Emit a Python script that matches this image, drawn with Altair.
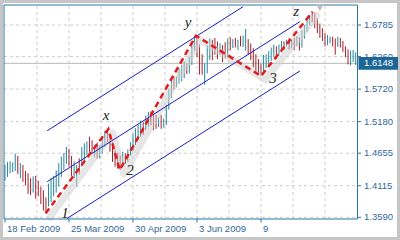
import altair as alt
import pandas as pd

# ---------------- data ----------------
highs = [
    1.446, 1.451, 1.452, 1.450, 1.465, 1.461, 1.449, 1.446, 1.436, 1.432,
    1.424, 1.427, 1.428, 1.420, 1.410, 1.404, 1.392, 1.415, 1.424, 1.428,
    1.437, 1.449, 1.460, 1.466, 1.476, 1.473, 1.461, 1.452, 1.446, 1.457,
    1.476, 1.482, 1.485, 1.493, 1.487, 1.479, 1.483, 1.479, 1.493, 1.503,
    1.5057, 1.496, 1.484, 1.471, 1.466, 1.462, 1.468, 1.465, 1.472, 1.484,
    1.498, 1.507, 1.513, 1.520, 1.517, 1.528, 1.534, 1.535, 1.531, 1.529,
    1.526, 1.529, 1.523, 1.546, 1.572, 1.590, 1.592, 1.593, 1.606, 1.612,
    1.618, 1.614, 1.626, 1.650, 1.6607, 1.659, 1.646, 1.630, 1.615, 1.645,
    1.656, 1.654, 1.657, 1.651, 1.648, 1.645, 1.650, 1.656, 1.658, 1.655,
    1.657, 1.654, 1.660, 1.661, 1.672, 1.655, 1.648, 1.640, 1.630, 1.622,
    1.614, 1.629, 1.630, 1.635, 1.641, 1.646, 1.643, 1.646, 1.652, 1.651,
    1.654, 1.657, 1.654, 1.657, 1.660, 1.658, 1.670, 1.6785, 1.687, 1.695,
    1.7006, 1.699, 1.690, 1.681, 1.673, 1.665, 1.662, 1.659, 1.659, 1.656,
    1.659, 1.657, 1.652, 1.643, 1.638, 1.636, 1.637, 1.633,
]
lows = [
    1.420, 1.426, 1.432, 1.434, 1.436, 1.431, 1.424, 1.418, 1.412, 1.398,
    1.396, 1.400, 1.390, 1.394, 1.381, 1.370, 1.3656, 1.377, 1.384, 1.394,
    1.400, 1.410, 1.426, 1.438, 1.448, 1.443, 1.427, 1.424, 1.410, 1.430,
    1.443, 1.453, 1.462, 1.467, 1.465, 1.459, 1.456, 1.457, 1.465, 1.476,
    1.484, 1.468, 1.451, 1.443, 1.440, 1.4376, 1.443, 1.448, 1.451, 1.462,
    1.470, 1.479, 1.487, 1.493, 1.496, 1.504, 1.509, 1.512, 1.504, 1.506,
    1.509, 1.506, 1.508, 1.512, 1.538, 1.557, 1.572, 1.575, 1.581, 1.585,
    1.590, 1.597, 1.598, 1.612, 1.636, 1.625, 1.596, 1.596, 1.579, 1.598,
    1.620, 1.620, 1.629, 1.622, 1.629, 1.617, 1.623, 1.625, 1.636, 1.640,
    1.641, 1.637, 1.643, 1.642, 1.636, 1.630, 1.620, 1.608, 1.600, 1.597,
    1.5938, 1.601, 1.607, 1.612, 1.619, 1.625, 1.622, 1.628, 1.633, 1.637,
    1.643, 1.638, 1.640, 1.637, 1.643, 1.636, 1.641, 1.656, 1.667, 1.678,
    1.683, 1.673, 1.665, 1.657, 1.652, 1.643, 1.645, 1.648, 1.643, 1.629,
    1.642, 1.641, 1.634, 1.625, 1.613, 1.611, 1.617, 1.612,
]
# u = up bar (teal), d = down bar (red)
dirs = list(
    "uuuuududdd"  # 0-9
    "duddddduuu"  # 10-19
    "uuuuudduud"  # 20-29
    "uuudduduuu"  # 30-39
    "dddddduduu"  # 40-49
    "uuuuduuddd"  # 50-59
    "uduuuuduuu"  # 60-69
    "uduuuddduu"  # 70-79
    "uddduddudu"  # 80-89
    "duduuddddd"  # 90-99
    "duuuuuduud"  # 100-109
    "udududuuuu"  # 110-119
    "dddddduudd"  # 120-129
    "udddduuu"    # 130-137
)

zig_i = [15.9, 40.4, 44.8, 74.6, 100.0, 120.2]
zig_p = [1.3656, 1.5057, 1.4376, 1.6607, 1.5938, 1.7006]

chan_name = ["upper", "upper", "middle", "middle", "lower", "lower"]
chan_i = [16.5, 93.0, 16.5, 115.2, 24.2, 115.2]
chan_p = [1.5029, 1.7089, 1.4182, 1.6840, 1.3570, 1.6021]

wave_text = ["1", "x", "2", "y", "3", "z"]
wave_i = [23.4, 39.5, 48.8, 71.5, 104.7, 113.7]
wave_p = [1.3661, 1.5290, 1.4376, 1.6835, 1.5904, 1.7018]

price_ticks = [1.3590, 1.4115, 1.4655, 1.5180, 1.5720, 1.6260, 1.6785]
date_ticks = [0, 25, 50, 75, 100]
date_labels = ["18 Feb 2009", "25 Mar 2009", "30 Apr 2009", "3 Jun 2009", "9"]
vgrid = [12.5, 25, 37.5, 50, 62.5, 75, 87.5, 100, 112.5, 125]
last_price = [1.6148]
shift_marker_i = [123]

# ---------------- styling ----------------
X0, X1 = -0.39, 137.7
Y0, Y1 = 1.3562, 1.7117
TEAL = "#26879b"
RED = "#a51f2b"
FRAME = "#2a76a6"
LBL = "#33679a"
GRID = "#cdcdcd"

xs = alt.Scale(domain=[X0, X1], range=[4, 357.5], nice=False, zero=False)
ys = alt.Scale(domain=[Y0, Y1], range=[219, 5], nice=False, zero=False)

assert len(highs) == len(lows) == len(dirs)
bars = pd.DataFrame({"i": list(range(len(highs))), "hi": highs, "lo": lows, "d": dirs})
zig = pd.DataFrame({"i": zig_i, "p": zig_p})
chan = pd.DataFrame({"name": chan_name, "i": chan_i, "p": chan_p})
waves = pd.DataFrame({"t": wave_text, "i": wave_i, "p": wave_p})
hgrid = pd.DataFrame({"p": price_ticks, "x0": X0, "x1": X1,
                      "t": [f"{v:.4f}" for v in price_ticks]})
vg = pd.DataFrame({"i": vgrid, "y0": Y0, "y1": Y1})
xt = pd.DataFrame({"i": date_ticks, "t": date_labels})
lp = pd.DataFrame({"p": last_price, "x0": X0, "x1": X1, "t": [f"{v:.4f}" for v in last_price]})
frame = pd.DataFrame({"x0": [X0], "x1": [X1], "y0": [Y0], "y1": [Y1]})
marker = pd.DataFrame({"i": shift_marker_i, "p": [1.7072]})


def X(f, **kw):
    return alt.X(f, scale=xs, axis=None, **kw)


def Y(f, **kw):
    return alt.Y(f, scale=ys, axis=None, **kw)


l_vgrid = alt.Chart(vg).mark_rule(color=GRID, strokeDash=[3, 3], strokeWidth=1).encode(
    x=X("i:Q"), y=Y("y0:Q"), y2="y1:Q")
l_hgrid = alt.Chart(hgrid).mark_rule(color=GRID, strokeDash=[3, 3], strokeWidth=1).encode(
    y=Y("p:Q"), x=X("x0:Q"), x2="x1:Q")
l_price = alt.Chart(lp).mark_rule(color="#b8b8b8", strokeWidth=1).encode(
    y=Y("p:Q"), x=X("x0:Q"), x2="x1:Q")

l_bars = alt.Chart(bars).mark_rule(strokeWidth=1).encode(
    x=X("i:Q"), y=Y("lo:Q"), y2="hi:Q",
    color=alt.Color("d:N", scale=alt.Scale(domain=["u", "d"], range=[TEAL, RED]), legend=None),
)

l_shadow = alt.Chart(zig).transform_calculate(
    si="datum.i + 1.6", sp="datum.p - 0.0065"
).mark_line(color="#d2d2d2", strokeWidth=7, opacity=0.55, strokeCap="round", strokeJoin="round").encode(
    x=X("si:Q"), y=Y("sp:Q"))

l_chan = alt.Chart(chan).mark_line(color="#1a1ac8", strokeWidth=1).encode(
    x=X("i:Q"), y=Y("p:Q"), detail="name:N")

l_zig = alt.Chart(zig).mark_line(color="#e01c1c", strokeWidth=2.5, strokeDash=[6, 4]).encode(
    x=X("i:Q"), y=Y("p:Q"))

l_text = alt.Chart(waves).mark_text(font="Liberation Serif", fontStyle="italic", fontSize=15,
                                     color="#1e1e1e").encode(
    x=X("i:Q"), y=Y("p:Q"), text="t:N")

l_frame = alt.Chart(frame).mark_rect(fillOpacity=0, stroke=FRAME, strokeWidth=1).encode(
    x=X("x0:Q"), x2="x1:Q", y=Y("y0:Q"), y2="y1:Q")

# right price axis: ticks + labels
l_ytick = alt.Chart(hgrid).mark_rule(color=FRAME, strokeWidth=1).encode(
    y=Y("p:Q"), x=alt.value(357.5), x2=alt.value(361))
l_ylab = alt.Chart(hgrid).mark_text(color=LBL, fontSize=9.5, font="Liberation Sans",
                                    align="left", baseline="middle").encode(
    y=Y("p:Q"), x=alt.value(364), text="t:N")

# bottom date axis: ticks + labels
l_xtick = alt.Chart(xt).mark_rule(color=FRAME, strokeWidth=1).encode(
    x=X("i:Q"), y=alt.value(219), y2=alt.value(222.5))
l_xlab = alt.Chart(xt).mark_text(color=LBL, fontSize=9.5, font="Liberation Sans",
                                 align="left", baseline="middle", dx=2).encode(
    x=X("i:Q"), y=alt.value(229), text="t:N")

l_box = alt.Chart(lp).transform_calculate(
    b0="datum.p - 0.0105", b1="datum.p + 0.0105"
).mark_rect(color="#1c6696").encode(
    x=alt.value(358.5), x2=alt.value(398), y=Y("b0:Q"), y2="b1:Q")

l_boxtext = alt.Chart(lp).mark_text(color="white", fontSize=9.5, font="Liberation Sans",
                                    align="left", baseline="middle").encode(
    x=alt.value(364), y=Y("p:Q"), text="t:N")

l_marker = alt.Chart(marker).mark_point(shape="triangle-down", filled=True, color="#bdbdbd",
                                        size=60, opacity=1).encode(
    x=X("i:Q"), y=Y("p:Q"))

chart = alt.layer(
    l_vgrid, l_hgrid, l_price, l_bars, l_shadow, l_chan, l_zig, l_text,
    l_frame, l_ytick, l_ylab, l_xtick, l_xlab, l_box, l_boxtext, l_marker
).properties(
    width=400, height=240, padding=0, autosize=alt.AutoSizeParams(type="none")
).configure_view(
    fill="white", stroke="#c6c6c6", strokeWidth=6
)

chart.save("out.html", embed_options={"renderer": "svg", "actions": False})
